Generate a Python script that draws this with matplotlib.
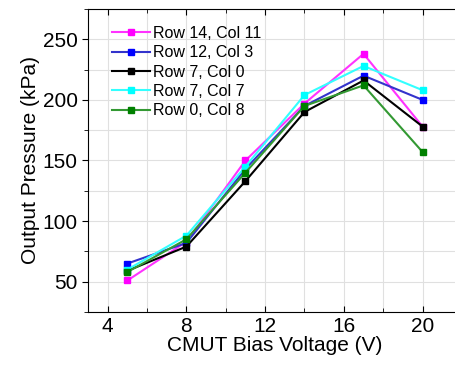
import matplotlib
matplotlib.use("Agg")
import matplotlib.pyplot as plt
from matplotlib.ticker import MultipleLocator

plt.rcParams['font.family'] = ['Liberation Sans', 'DejaVu Sans']

# Bias voltage (V)
voltage = [5, 8, 11, 14, 17, 20]

# Output pressure (kPa) per element
row14_col11 = [51, 83, 150, 197, 238, 178]
row12_col3 = [65, 82, 143, 195, 220, 200]
row7_col0 = [59, 79, 133, 190, 216, 178]
row7_col7 = [60, 88, 145, 204, 228, 208]
row0_col8 = [58, 85, 140, 195, 212, 157]

labels = ["Row 14, Col 11", "Row 12, Col 3", "Row 7, Col 0", "Row 7, Col 7", "Row 0, Col 8"]
series = [row14_col11, row12_col3, row7_col0, row7_col7, row0_col8]
line_colors = ["#ff33ff", "#3333cc", "#000000", "#33ffff", "#339933"]
marker_colors = ["#ff00ff", "#0000ff", "#000000", "#00ffff", "#008000"]

fig = plt.figure(figsize=(4.56, 3.66), dpi=100)
ax = fig.add_axes([0.193, 0.1475, 0.82, 0.828])

for vals, lab, lc, mc in zip(series, labels, line_colors, marker_colors):
    ax.plot(voltage, vals, color=lc, lw=1.5, marker='s', ms=5,
            markerfacecolor=mc, markeredgecolor=mc, label=lab)

ax.set_xlim(3, 22)
ax.set_ylim(25, 275)
ax.xaxis.set_major_locator(MultipleLocator(4))
ax.xaxis.set_minor_locator(MultipleLocator(2))
ax.yaxis.set_major_locator(MultipleLocator(50))
ax.yaxis.set_minor_locator(MultipleLocator(25))

ax.grid(True, which='both', color='#e0e0e0', lw=0.8)
ax.set_axisbelow(True)

ax.tick_params(axis='x', which='both', direction='in', top=True, labelsize=15)
ax.tick_params(axis='y', which='both', direction='out', labelsize=15)
ax.tick_params(which='major', length=4)
ax.tick_params(which='minor', length=3)

ax.set_xlabel("CMUT Bias Voltage (V)", fontsize=15, labelpad=0)
ax.set_ylabel("Output Pressure (kPa)", fontsize=15, labelpad=2)

ax.legend(loc='upper left', frameon=False, fontsize=11.5, handlelength=2.4,
          handletextpad=0.2, labelspacing=0.27, borderaxespad=0,
          bbox_to_anchor=(0.047, 0.965))

fig.savefig("out.png", dpi=100)
